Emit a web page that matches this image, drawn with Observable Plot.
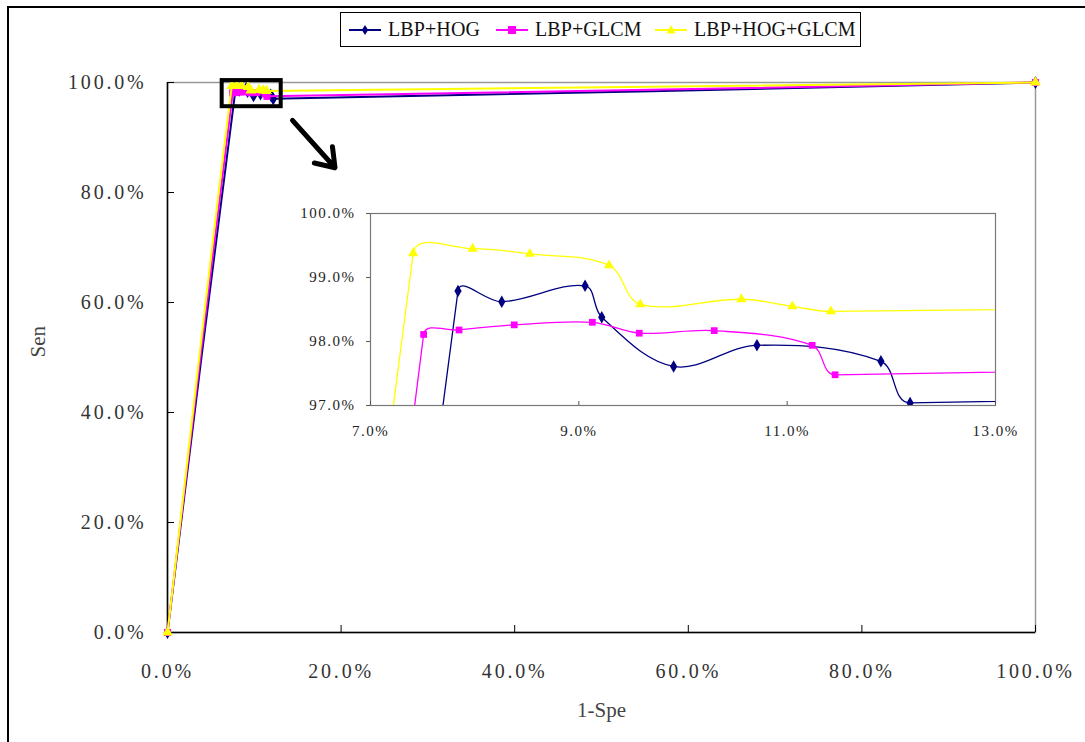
<!DOCTYPE html>
<html>
<head>
<meta charset="utf-8">
<script src="https://cdn.jsdelivr.net/npm/d3@7"></script>
<script src="https://cdn.jsdelivr.net/npm/@observablehq/plot@0.6"></script>
<style>
  html, body { margin: 0; padding: 0; background: #fff; }
  #wrap { position: relative; width: 1085px; height: 742px; overflow: hidden; font-family: "Liberation Serif", serif; }
  #wrap > svg { position: absolute; }
  .bl { position: absolute; background: #000; }
  #legend { position: absolute; left: 340px; top: 12px; width: 519px; height: 33px; border: 1.5px solid #000; background: #fff; }
  .item { position: absolute; top: 0; height: 33px; display: flex; align-items: center; color: #111; font-size: 20px; letter-spacing: 0.1px; white-space: nowrap; }
  .item svg { display: block; }
</style>
</head>
<body>
<div id="wrap">
  <div class="bl" style="left:7px;top:6px;width:1078px;height:1.5px"></div>
  <div class="bl" style="left:7px;top:6px;width:1.5px;height:736px"></div>
</div>
<script>
// ---- data (values in percent) ----
const seriesNames = ["LBP+HOG", "LBP+GLCM", "LBP+HOG+GLCM"];
const hogX  = [0, 7.84, 8.26, 9.06, 9.22, 9.91, 10.71, 11.90, 12.18, 100];
const hogY  = [0, 98.79, 98.62, 98.87, 98.38, 97.61, 97.94, 97.69, 97.04, 100];
const glcmX = [0, 7.51, 7.85, 8.38, 9.13, 9.58, 10.30, 11.24, 11.46, 100];
const glcmY = [0, 98.11, 98.18, 98.26, 98.30, 98.13, 98.17, 97.94, 97.48, 100];
const allX  = [0, 7.41, 7.98, 8.53, 9.29, 9.59, 10.56, 11.05, 11.42, 100];
const allY  = [0, 99.38, 99.45, 99.37, 99.19, 98.58, 98.66, 98.55, 98.47, 100];
const mainTicks = [0, 20, 40, 60, 80, 100];
const insetXTicks = [7, 9, 11, 13];
const insetYTicks = [97, 98, 99, 100];
const zoomBox = [{x1: 6.3, x2: 13.1, y1: 95.6, y2: 100.35}];
const arrowPts = [{x1: 14.4, y1: 93.1, x2: 19.3, y2: 84.5}];

const colors = ["#000080", "#FF00FF", "#FFFF00"];
const symbols = ["diamond", "square", "triangle"];
const xs = [hogX, glcmX, allX], ys = [hogY, glcmY, allY];
const series = seriesNames.map((name, i) => xs[i].map((x, j) => ({name, x, y: ys[i][j]})));
const fmt = d => d.toFixed(1) + "%";

// Spreadsheet-style smoothed line: tangent through neighbours, arm scaled by segment length
function smoothCurve(context) {
  let pts;
  const f = 0.36;
  return {
    areaStart() {}, areaEnd() {},
    lineStart() { pts = []; },
    point(x, y) { pts.push([+x, +y]); },
    lineEnd() {
      const n = pts.length;
      if (!n) return;
      context.moveTo(pts[0][0], pts[0][1]);
      if (n === 1) return;
      const d = [];
      for (let i = 0; i < n - 1; i++) d.push(Math.hypot(pts[i + 1][0] - pts[i][0], pts[i + 1][1] - pts[i][1]));
      const T = pts.map((p, i) => {
        const a = pts[Math.max(0, i - 1)], b = pts[Math.min(n - 1, i + 1)];
        return [b[0] - a[0], b[1] - a[1]];
      });
      for (let i = 0; i < n - 1; i++) {
        const di = d[i] || 1e-9;
        const dPrev = i > 0 ? d[i - 1] : 0;
        const dNext = i < n - 2 ? d[i + 1] : 0;
        const k1 = f * di / (dPrev + di);
        const k2 = f * di / (di + dNext);
        const p1 = pts[i], p2 = pts[i + 1];
        context.bezierCurveTo(
          p1[0] + T[i][0] * k1, p1[1] + T[i][1] * k1,
          p2[0] - T[i + 1][0] * k2, p2[1] - T[i + 1][1] * k2,
          p2[0], p2[1]);
      }
    }
  };
}

const lineMarks = (sw, r, clip) => series.flatMap((data, i) => [
  Plot.line(data, {x: "x", y: "y", stroke: colors[i], strokeWidth: sw, curve: smoothCurve, clip}),
  Plot.dot(data, {x: "x", y: "y", fill: colors[i], symbol: () => symbols[i], r, clip, stroke: "none"})
]);

const wrap = document.getElementById("wrap");

// ---- main chart ----
const main = Plot.plot({
  width: 1085, height: 742,
  marginLeft: 167, marginRight: 50, marginTop: 82, marginBottom: 110,
  x: {domain: [0, 100]},
  y: {domain: [0, 100]},
  style: {fontFamily: "Liberation Serif, serif", fontSize: "20px", color: "#333", background: "transparent", overflow: "visible"},
  marks: [
    Plot.frame({stroke: "#999", strokeWidth: 1.5}),
    Plot.ruleX([0], {stroke: "#000", strokeWidth: 1.5}),
    Plot.ruleY([0], {stroke: "#000", strokeWidth: 1.5}),
    Plot.tickX(mainTicks, {x: d => d, insetTop: 543, stroke: "#000"}),
    Plot.tickY(mainTicks, {y: d => d, insetRight: 861, stroke: "#000"}),
    Plot.axisX({ticks: mainTicks, tickFormat: fmt, tickSize: 0, tickPadding: 31, label: null, fill: "#333"}),
    Plot.axisY({ticks: mainTicks, tickFormat: fmt, tickSize: 0, tickPadding: 21, label: null, fill: "#333"}),
    Plot.text(["Sen"], {frameAnchor: "left", dx: -129, rotate: -90, fontSize: 21, fill: "#444"}),
    Plot.text(["1-Spe"], {frameAnchor: "bottom", dy: 84, fontSize: 21, fill: "#444"}),
    ...lineMarks(2, 4, false),
    Plot.rect(zoomBox, {x1: "x1", x2: "x2", y1: "y1", y2: "y2", fill: "none", stroke: "#000", strokeWidth: 4}),
    Plot.arrow(arrowPts, {x1: "x1", y1: "y1", x2: "x2", y2: "y2", stroke: "#000", strokeWidth: 5, headLength: 16, headAngle: 70})
  ]
});
main.style.left = "0px"; main.style.top = "0px";
main.querySelectorAll("g[aria-label='x-axis tick label'] text, g[aria-label='y-axis tick label'] text").forEach(t => t.setAttribute("letter-spacing", "2.8"));
wrap.appendChild(main);

// ---- inset chart ----
const inset = Plot.plot({
  width: 730, height: 250,
  marginLeft: 80, marginRight: 25, marginTop: 13, marginBottom: 45,
  x: {domain: [7, 13]},
  y: {domain: [97, 100]},
  style: {fontFamily: "Liberation Serif, serif", fontSize: "15px", color: "#333", background: "transparent", overflow: "visible"},
  marks: [
    Plot.frame({stroke: "#777", strokeWidth: 1.2}),
    Plot.tickX(insetXTicks, {x: d => d, insetTop: 188, stroke: "#555"}),
    Plot.axisX({ticks: insetXTicks, tickFormat: fmt, tickSize: 0, tickPadding: 20, label: null, fill: "#222"}),
    Plot.axisY({ticks: insetYTicks, tickFormat: fmt, tickSize: 4, tickPadding: 11, label: null, fill: "#222", stroke: "#555"}),
    ...lineMarks(1.3, 3.8, "frame")
  ]
});
inset.style.left = "290px"; inset.style.top = "200px";
inset.querySelectorAll("g[aria-label='x-axis tick label'] text, g[aria-label='y-axis tick label'] text").forEach(t => t.setAttribute("letter-spacing", "1.5"));
wrap.appendChild(inset);

// ---- legend ----
const legend = document.createElement("div");
legend.id = "legend";
const sym = {
  diamond: '<path d="M0,-5L3.2,0L0,5L-3.2,0Z"/>',
  square: '<rect x="-4" y="-4" width="8" height="8"/>',
  triangle: '<path d="M0,-5L4.5,3.5L-4.5,3.5Z"/>'
};
const itemLeft = [8, 155, 314];
seriesNames.forEach((name, i) => {
  const it = document.createElement("div");
  it.className = "item";
  it.style.left = itemLeft[i] + "px";
  it.innerHTML = `<svg width="32" height="14" viewBox="-16 -7 32 14"><line x1="-16" x2="16" y1="0" y2="0" stroke="${colors[i]}" stroke-width="2"/><g fill="${colors[i]}">${sym[symbols[i]]}</g></svg><span style="margin-left:7px">${name}</span>`;
  legend.appendChild(it);
});
wrap.appendChild(legend);
</script>
</body>
</html>
